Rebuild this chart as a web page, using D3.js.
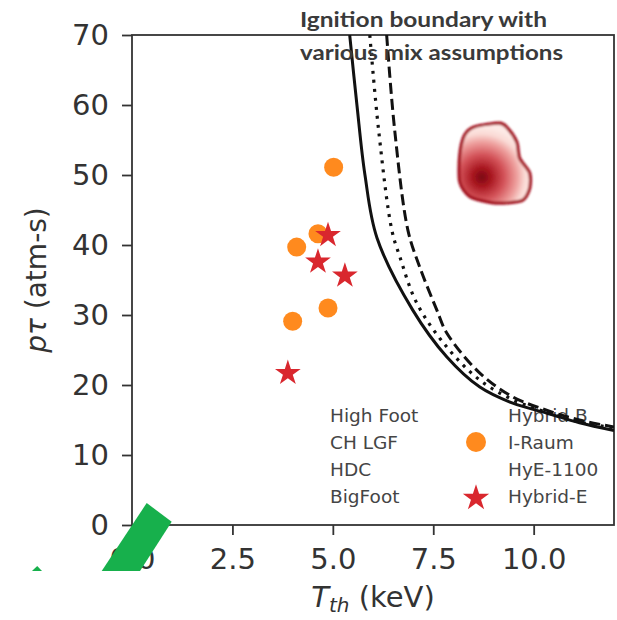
<!DOCTYPE html>
<html>
<head>
<meta charset="utf-8">
<script src="https://cdn.jsdelivr.net/npm/d3@7"></script>
<style>
  html, body { margin: 0; padding: 0; background: #fff; }
  svg { display: block; }
</style>
</head>
<body>
<svg id="chart" width="617" height="620"></svg>
<script>
// ---- data ----------------------------------------------------------------
const xTicks = [0, 2.5, 5.0, 7.5, 10.0];
const yTicks = [0, 10, 20, 30, 40, 50, 60, 70];

// I-Raum designs (T_th keV, p*tau atm-s)
const iraumT   = [5.02, 4.10, 4.63, 4.00, 4.88];
const iraumPt  = [51.1, 39.7, 41.6, 29.1, 31.0];
// Hybrid-E shots
const hybridT  = [4.88, 4.63, 5.30, 3.88];
const hybridPt = [41.4, 37.6, 35.6, 21.7];

// Ignition boundary for three mix assumptions
const boundarySolidT   = [5.42, 5.60, 5.80, 6.10, 6.99, 7.84, 8.66, 9.48, 10.32, 11.14, 12.0];
const boundarySolidPt  = [70.0, 60.0, 50.0, 41.0, 30.7, 24.0, 19.7, 17.4, 16.0, 14.6, 13.5];
const boundaryDotT     = [5.92, 6.14, 6.47, 6.67, 7.09, 7.84, 8.66, 9.48, 10.32, 11.14, 12.0];
const boundaryDotPt    = [70.0, 56.4, 42.1, 38.3, 31.7, 25.4, 20.7, 17.9, 16.1, 14.7, 13.9];
const boundaryDashT    = [6.34, 6.54, 6.87, 7.16, 7.59, 7.84, 8.66, 9.48, 10.32, 11.14, 12.0];
const boundaryDashPt   = [70.0, 56.4, 42.1, 36.9, 30.7, 27.4, 21.7, 18.3, 16.4, 15.0, 14.0];

// Outer contour of the projected-performance density and its peak
const densityEdgeT  = [8.53, 9.15, 9.35, 9.58, 9.65, 9.90, 9.90, 9.73, 9.33, 8.91, 8.41, 8.16, 8.16, 8.28];
const densityEdgePt = [56.9, 57.4, 56.7, 54.7, 52.4, 50.3, 48.1, 46.4, 46.0, 46.1, 46.9, 49.0, 52.9, 55.7];
const densityPeak   = [8.71, 49.7];

// Green region in the lower-left corner (extends past the axes)
const greenT  = [0.366, 0.988, 0.20, -0.754];
const greenPt = [3.14, 0.47, -6.57, -6.57];
const greenTipT  = [-2.49, -2.36, -2.24];
const greenTipPt = [-6.57, -5.86, -6.57];

// Legend: two columns, marker only where that series has points
const legendLeft   = ["High Foot", "CH LGF", "HDC", "BigFoot"];
const legendRight  = ["Hybrid B", "I-Raum", "HyE-1100", "Hybrid-E"];
const legendRightMarker = [null, "circle", null, "star"];

const titleLines = ["Ignition boundary with", "various mix assumptions"];

// ---- layout --------------------------------------------------------------
const svg = d3.select("#chart");
const W = 617, H = 620;
const margin = { top: 35, right: 3, bottom: 95, left: 132 };
const plotW = W - margin.left - margin.right;
const plotH = H - margin.top - margin.bottom;

const x = d3.scaleLinear().domain([0, 12]).range([margin.left, margin.left + plotW]);
const y = d3.scaleLinear().domain([0, 70]).range([margin.top + plotH, margin.top]);

const tickFont = "DejaVu Sans, sans-serif";
const ink = "#333";
const orange = "#ff8a1e";
const red = "#d9272e";

const defs = svg.append("defs");
defs.append("clipPath").attr("id", "plotClip")
  .append("rect")
  .attr("x", margin.left).attr("y", margin.top)
  .attr("width", plotW).attr("height", plotH);

const grad = defs.append("radialGradient")
  .attr("id", "densityGrad")
  .attr("gradientUnits", "userSpaceOnUse")
  .attr("cx", x(densityPeak[0])).attr("cy", y(densityPeak[1]))
  .attr("fx", x(densityPeak[0])).attr("fy", y(densityPeak[1]))
  .attr("r", 50);
[[0, "#7a0714"], [0.18, "#a8161f"], [0.45, "#d4545a"], [0.7, "#eea09e"], [0.86, "#fadad5"], [1, "#fde9e5"]]
  .forEach(([o, c]) => grad.append("stop").attr("offset", o).attr("stop-color", c));

defs.append("filter").attr("id", "soft")
  .attr("x", "-20%").attr("y", "-20%").attr("width", "140%").attr("height", "140%")
  .append("feGaussianBlur").attr("stdDeviation", 1.1);

// ---- axes ----------------------------------------------------------------
const xAxis = d3.axisBottom(x).tickValues(xTicks).tickFormat(d3.format(".1f"))
  .tickSize(10).tickPadding(13);
const yAxis = d3.axisLeft(y).tickValues(yTicks).tickFormat(d3.format("d"))
  .tickSize(10).tickPadding(13);

const gx = svg.append("g").attr("transform", `translate(0,${margin.top + plotH})`).call(xAxis);
const gy = svg.append("g").attr("transform", `translate(${margin.left},0)`).call(yAxis);
[gx, gy].forEach(g => {
  g.select(".domain").remove();
  g.selectAll(".tick line").attr("stroke", ink).attr("stroke-width", 1.8);
  g.selectAll(".tick text").attr("fill", ink)
    .style("font-family", tickFont).style("font-size", "29px");
});

// frame
svg.append("rect")
  .attr("x", margin.left).attr("y", margin.top)
  .attr("width", plotW).attr("height", plotH)
  .attr("fill", "none").attr("stroke", ink).attr("stroke-width", 1.8);

// axis labels
const yLab = svg.append("text")
  .attr("transform", `translate(46,${margin.top + plotH / 2}) rotate(-90)`)
  .attr("text-anchor", "middle")
  .style("font-family", tickFont).style("font-size", "28px").attr("fill", ink);
yLab.append("tspan").style("font-style", "italic").text("pτ");
yLab.append("tspan").text(" (atm-s)");

const xLab = svg.append("text")
  .attr("x", margin.left + plotW / 2).attr("y", 607)
  .attr("text-anchor", "middle")
  .style("font-family", tickFont).style("font-size", "29px").attr("fill", ink);
xLab.append("tspan").style("font-style", "italic").text("T");
xLab.append("tspan").style("font-style", "italic").style("font-size", "20px").attr("dy", 5).text("th");
xLab.append("tspan").attr("dy", -5).text(" (keV)");

// ---- legend --------------------------------------------------------------
const legend = svg.append("g")
  .style("font-family", tickFont).style("font-size", "18.5px").attr("fill", "#454545");
const rowY = i => 422 + i * 27;
legendLeft.forEach((t, i) => legend.append("text").attr("x", 330).attr("y", rowY(i)).text(t));
legendRight.forEach((t, i) => {
  legend.append("text").attr("x", 508).attr("y", rowY(i)).text(t);
  const m = legendRightMarker[i];
  if (m === "circle") {
    legend.append("circle").attr("cx", 476).attr("cy", rowY(i) - 7).attr("r", 10).attr("fill", orange);
  } else if (m === "star") {
    legend.append("path")
      .attr("d", d3.symbol(d3.symbolStar, 215)())
      .attr("transform", `translate(476,${rowY(i) - 5})`)
      .attr("fill", red);
  }
});

// ---- plot content --------------------------------------------------------
const plot = svg.append("g").attr("clip-path", "url(#plotClip)");

// I-Raum points
plot.selectAll("circle.iraum").data(d3.range(iraumT.length)).join("circle")
  .attr("class", "iraum")
  .attr("cx", i => x(iraumT[i])).attr("cy", i => y(iraumPt[i]))
  .attr("r", 9.5).attr("fill", orange);

// Hybrid-E points
plot.selectAll("path.hybrid").data(d3.range(hybridT.length)).join("path")
  .attr("class", "hybrid")
  .attr("d", d3.symbol(d3.symbolStar, 205)())
  .attr("transform", i => `translate(${x(hybridT[i])},${y(hybridPt[i])})`)
  .attr("fill", red);

// density contour
const blobLine = d3.line().x(i => x(densityEdgeT[i])).y(i => y(densityEdgePt[i]))
  .curve(d3.curveCardinalClosed.tension(0.2));
plot.append("path")
  .attr("d", blobLine(d3.range(densityEdgeT.length)))
  .attr("fill", "url(#densityGrad)")
  .attr("stroke", "#a3111d").attr("stroke-width", 3.2)
  .attr("filter", "url(#soft)");

// title
const title = svg.append("g")
  .style("font-family", "Lato, 'Open Sans', sans-serif")
  .style("font-weight", 700).style("font-size", "20px").attr("fill", "#3a3a3a");
title.append("text").attr("x", 300).attr("y", 27)
  .attr("textLength", 247).attr("lengthAdjust", "spacingAndGlyphs").text(titleLines[0]);
title.append("text").attr("x", 300).attr("y", 60)
  .attr("textLength", 263).attr("lengthAdjust", "spacingAndGlyphs").text(titleLines[1]);

// ignition boundaries
const boundaryLine = (ts, ps) => d3.line()
  .x(i => x(ts[i])).y(i => y(ps[i]))
  .curve(d3.curveCatmullRom.alpha(0.5))(d3.range(ts.length));
const lineStroke = "#111";
plot.append("path").attr("d", boundaryLine(boundarySolidT, boundarySolidPt))
  .attr("fill", "none").attr("stroke", lineStroke).attr("stroke-width", 3);
plot.append("path").attr("d", boundaryLine(boundaryDotT, boundaryDotPt))
  .attr("fill", "none").attr("stroke", lineStroke).attr("stroke-width", 3.2)
  .attr("stroke-dasharray", "3,6");
plot.append("path").attr("d", boundaryLine(boundaryDashT, boundaryDashPt))
  .attr("fill", "none").attr("stroke", lineStroke).attr("stroke-width", 3)
  .attr("stroke-dasharray", "11,5");

// green region, drawn on top and not clipped
const green = "#17b04c";
const polyLine = (ts, ps) => d3.line().x(i => x(ts[i])).y(i => y(ps[i]))(d3.range(ts.length)) + "Z";
svg.append("path").attr("d", polyLine(greenT, greenPt)).attr("fill", green);
svg.append("path").attr("d", polyLine(greenTipT, greenTipPt)).attr("fill", green);
</script>
</body>
</html>
